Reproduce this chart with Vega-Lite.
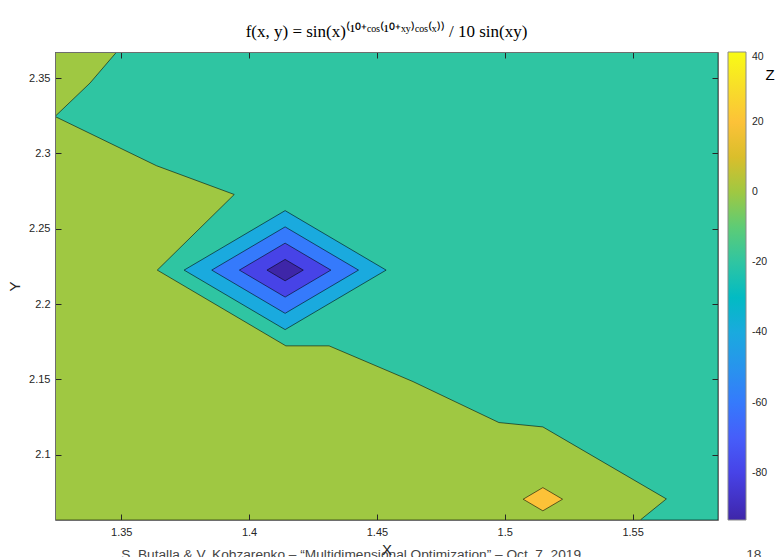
{
  "$schema": "https://vega.github.io/schema/vega-lite/v6.json",
  "width": 663,
  "height": 468,
  "autosize": {"type": "none"},
  "padding": {"left": 55, "top": 52, "right": 61, "bottom": 37},
  "background": "white",
  "title": {
    "text": "f(x, y) = sin(x)⁽¹⁰⁺ᶜᵒˢ⁽¹⁰⁺ˣʸ⁾ᶜᵒˢ⁽ˣ⁾⁾ / 10 sin(xy)",
    "font": "Liberation Serif",
    "fontSize": 17,
    "fontWeight": "normal",
    "color": "#000000",
    "anchor": "middle",
    "offset": 11
  },
  "config": {
    "view": {"stroke": null},
    "font": "Liberation Sans"
  },
  "layer": [
    {
      "data": {
        "values": [
          {"poly": "p0_bg", "i": 0, "x": 1.3241, "y": 2.0566, "z": -20},
          {"poly": "p0_bg", "i": 1, "x": 1.5834, "y": 2.0566, "z": -20},
          {"poly": "p0_bg", "i": 2, "x": 1.5834, "y": 2.3673, "z": -20},
          {"poly": "p0_bg", "i": 3, "x": 1.3241, "y": 2.3673, "z": -20},
          {"poly": "p0_bg", "i": 4, "x": 1.3241, "y": 2.0566, "z": -20},

          {"poly": "p1_greenA", "i": 0, "x": 1.3241, "y": 2.3673, "z": 0},
          {"poly": "p1_greenA", "i": 1, "x": 1.3482, "y": 2.3673, "z": 0},
          {"poly": "p1_greenA", "i": 2, "x": 1.3378, "y": 2.3467, "z": 0},
          {"poly": "p1_greenA", "i": 3, "x": 1.3241, "y": 2.3245, "z": 0},
          {"poly": "p1_greenA", "i": 4, "x": 1.3241, "y": 2.3673, "z": 0},

          {"poly": "p2_greenB", "i": 0, "x": 1.3241, "y": 2.3245, "z": 0},
          {"poly": "p2_greenB", "i": 1, "x": 1.3638, "y": 2.2918, "z": 0},
          {"poly": "p2_greenB", "i": 2, "x": 1.3942, "y": 2.2727, "z": 0},
          {"poly": "p2_greenB", "i": 3, "x": 1.3641, "y": 2.2225, "z": 0},
          {"poly": "p2_greenB", "i": 4, "x": 1.4144, "y": 2.1722, "z": 0},
          {"poly": "p2_greenB", "i": 5, "x": 1.4313, "y": 2.1722, "z": 0},
          {"poly": "p2_greenB", "i": 6, "x": 1.4641, "y": 2.1485, "z": 0},
          {"poly": "p2_greenB", "i": 7, "x": 1.4977, "y": 2.1213, "z": 0},
          {"poly": "p2_greenB", "i": 8, "x": 1.5149, "y": 2.1184, "z": 0},
          {"poly": "p2_greenB", "i": 9, "x": 1.5632, "y": 2.0706, "z": 0},
          {"poly": "p2_greenB", "i": 10, "x": 1.5530, "y": 2.0566, "z": 0},
          {"poly": "p2_greenB", "i": 11, "x": 1.3241, "y": 2.0566, "z": 0},
          {"poly": "p2_greenB", "i": 12, "x": 1.3241, "y": 2.3245, "z": 0},

          {"poly": "p3_d40", "i": 0, "x": 1.3746, "y": 2.2225, "z": -40},
          {"poly": "p3_d40", "i": 1, "x": 1.4141, "y": 2.2620, "z": -40},
          {"poly": "p3_d40", "i": 2, "x": 1.4536, "y": 2.2225, "z": -40},
          {"poly": "p3_d40", "i": 3, "x": 1.4141, "y": 2.1830, "z": -40},
          {"poly": "p3_d40", "i": 4, "x": 1.3746, "y": 2.2225, "z": -40},

          {"poly": "p4_d60", "i": 0, "x": 1.3854, "y": 2.2225, "z": -60},
          {"poly": "p4_d60", "i": 1, "x": 1.4141, "y": 2.2512, "z": -60},
          {"poly": "p4_d60", "i": 2, "x": 1.4428, "y": 2.2225, "z": -60},
          {"poly": "p4_d60", "i": 3, "x": 1.4141, "y": 2.1938, "z": -60},
          {"poly": "p4_d60", "i": 4, "x": 1.3854, "y": 2.2225, "z": -60},

          {"poly": "p5_d80", "i": 0, "x": 1.3962, "y": 2.2225, "z": -80},
          {"poly": "p5_d80", "i": 1, "x": 1.4141, "y": 2.2404, "z": -80},
          {"poly": "p5_d80", "i": 2, "x": 1.4320, "y": 2.2225, "z": -80},
          {"poly": "p5_d80", "i": 3, "x": 1.4141, "y": 2.2046, "z": -80},
          {"poly": "p5_d80", "i": 4, "x": 1.3962, "y": 2.2225, "z": -80},

          {"poly": "p6_dmin", "i": 0, "x": 1.4070, "y": 2.2225, "z": -93.5},
          {"poly": "p6_dmin", "i": 1, "x": 1.4141, "y": 2.2296, "z": -93.5},
          {"poly": "p6_dmin", "i": 2, "x": 1.4212, "y": 2.2225, "z": -93.5},
          {"poly": "p6_dmin", "i": 3, "x": 1.4141, "y": 2.2154, "z": -93.5},
          {"poly": "p6_dmin", "i": 4, "x": 1.4070, "y": 2.2225, "z": -93.5},

          {"poly": "p7_orange", "i": 0, "x": 1.5072, "y": 2.0704, "z": 20},
          {"poly": "p7_orange", "i": 1, "x": 1.5149, "y": 2.0781, "z": 20},
          {"poly": "p7_orange", "i": 2, "x": 1.5226, "y": 2.0704, "z": 20},
          {"poly": "p7_orange", "i": 3, "x": 1.5149, "y": 2.0627, "z": 20},
          {"poly": "p7_orange", "i": 4, "x": 1.5072, "y": 2.0704, "z": 20}
        ]
      },
      "mark": {
        "type": "line",
        "stroke": "#000000",
        "strokeWidth": 0.7,
        "strokeOpacity": 0.8,
        "strokeJoin": "miter",
        "clip": true
      },
      "encoding": {
        "x": {
          "field": "x",
          "type": "quantitative",
          "scale": {"domain": [1.3241, 1.5834], "nice": false, "zero": false},
          "axis": {
            "orient": "bottom",
            "values": [1.35, 1.4, 1.45, 1.5, 1.55],
            "format": "~g",
            "grid": false,
            "tickSize": -6,
            "tickColor": "#262626",
            "tickWidth": 1,
            "labelPadding": 12,
            "labelFontSize": 11,
            "labelColor": "#262626",
            "labelFont": "Liberation Sans",
            "domainColor": "#6e6e6e",
            "domainWidth": 1,
            "title": "X",
            "titleFont": "Liberation Sans",
            "titleFontSize": 15,
            "titleFontWeight": "normal",
            "titleColor": "#262626",
            "titlePadding": 5,
            "zindex": 1
          }
        },
        "y": {
          "field": "y",
          "type": "quantitative",
          "scale": {"domain": [2.0566, 2.3673], "nice": false, "zero": false},
          "axis": {
            "orient": "left",
            "values": [2.1, 2.15, 2.2, 2.25, 2.3, 2.35],
            "format": "~g",
            "grid": false,
            "tickSize": -6,
            "tickColor": "#262626",
            "tickWidth": 1,
            "labelPadding": 11,
            "labelFontSize": 11,
            "labelColor": "#262626",
            "labelFont": "Liberation Sans",
            "domainColor": "#6e6e6e",
            "domainWidth": 1,
            "title": "Y",
            "titleFont": "Liberation Sans",
            "titleFontSize": 15,
            "titleFontWeight": "normal",
            "titleColor": "#262626",
            "titlePadding": 6,
            "zindex": 1
          }
        },
        "fill": {
          "field": "z",
          "type": "quantitative",
          "scale": {
            "domain": [-93.5, 40],
            "interpolate": "rgb",
            "range": ["#3e26a8", "#4432cb", "#4741e5", "#4852f4", "#4563fd", "#3875fe", "#2e87f7", "#2797eb", "#20a5e3", "#12b1d6", "#02bbc3", "#24c1af", "#37c897", "#57cc7a", "#81cc59", "#abc739", "#d1bf27", "#f0ba36", "#fec338", "#fad62d", "#f5e924", "#f9fb15"]
          },
          "legend": {
            "orient": "none",
            "legendX": 673,
            "legendY": 0,
            "direction": "vertical",
            "padding": 0,
            "gradientLength": 468,
            "gradientThickness": 18,
            "gradientStrokeColor": "#8a8a8a",
            "gradientStrokeWidth": 1,
            "values": [-80, -60, -40, -20, 0, 20, 40],
            "labelExpr": "datum.value < 0 ? '-' + abs(datum.value) : '' + datum.value",
            "labelFont": "Liberation Sans",
            "labelFontSize": 10.5,
            "labelColor": "#262626",
            "labelOffset": 6,
            "labelBaseline": "middle",
            "labelOverlap": false,
            "title": null
          }
        },
        "detail": {"field": "poly"},
        "order": {"field": "i", "type": "quantitative"}
      }
    },
    {
      "data": {"values": [{"label": "S. Butalla & V. Kobzarenko – “Multidimensional Optimization” – Oct. 7, 2019", "fx": 1.35, "fy": 2.0305}]},
      "mark": {
        "type": "text",
        "align": "left",
        "baseline": "alphabetic",
        "font": "Liberation Sans",
        "fontSize": 13.7,
        "color": "#444444",
        "clip": false
      },
      "encoding": {
        "text": {"field": "label"},
        "x": {
          "field": "fx",
          "type": "quantitative",
          "scale": {"domain": [1.3241, 1.5834], "nice": false, "zero": false},
          "axis": {
            "orient": "top",
            "values": [1.35, 1.4, 1.45, 1.5, 1.55],
            "labels": false,
            "title": null,
            "grid": false,
            "tickSize": -6,
            "tickColor": "#262626",
            "domainColor": "#6e6e6e",
            "domainWidth": 1,
            "zindex": 1
          }
        },
        "y": {
          "field": "fy",
          "type": "quantitative",
          "scale": {"domain": [2.0566, 2.3673], "nice": false, "zero": false},
          "axis": {
            "orient": "right",
            "values": [2.1, 2.15, 2.2, 2.25, 2.3, 2.35],
            "labels": false,
            "title": null,
            "grid": false,
            "tickSize": -6,
            "tickColor": "#262626",
            "domainColor": "#6e6e6e",
            "domainWidth": 1,
            "zindex": 1
          }
        }
      }
    },
    {
      "data": {"values": [{"label": "18", "fx": 1.5944, "fy": 2.0305}]},
      "mark": {
        "type": "text",
        "align": "left",
        "baseline": "alphabetic",
        "font": "Liberation Sans",
        "fontSize": 13.7,
        "color": "#444444",
        "clip": false
      },
      "encoding": {
        "text": {"field": "label"},
        "x": {
          "field": "fx",
          "type": "quantitative",
          "scale": {"domain": [1.3241, 1.5834], "nice": false, "zero": false},
          "axis": null
        },
        "y": {
          "field": "fy",
          "type": "quantitative",
          "scale": {"domain": [2.0566, 2.3673], "nice": false, "zero": false},
          "axis": null
        }
      }
    },
    {
      "data": {"values": [{"label": "Z", "fx": 1.602, "fy": 2.3489}]},
      "mark": {
        "type": "text",
        "align": "left",
        "baseline": "alphabetic",
        "font": "Liberation Sans",
        "fontSize": 15,
        "color": "#000000",
        "clip": false
      },
      "encoding": {
        "text": {"field": "label"},
        "x": {
          "field": "fx",
          "type": "quantitative",
          "scale": {"domain": [1.3241, 1.5834], "nice": false, "zero": false},
          "axis": null
        },
        "y": {
          "field": "fy",
          "type": "quantitative",
          "scale": {"domain": [2.0566, 2.3673], "nice": false, "zero": false},
          "axis": null
        }
      }
    }
  ],
  "resolve": {"axis": {"x": "independent", "y": "independent"}}
}
